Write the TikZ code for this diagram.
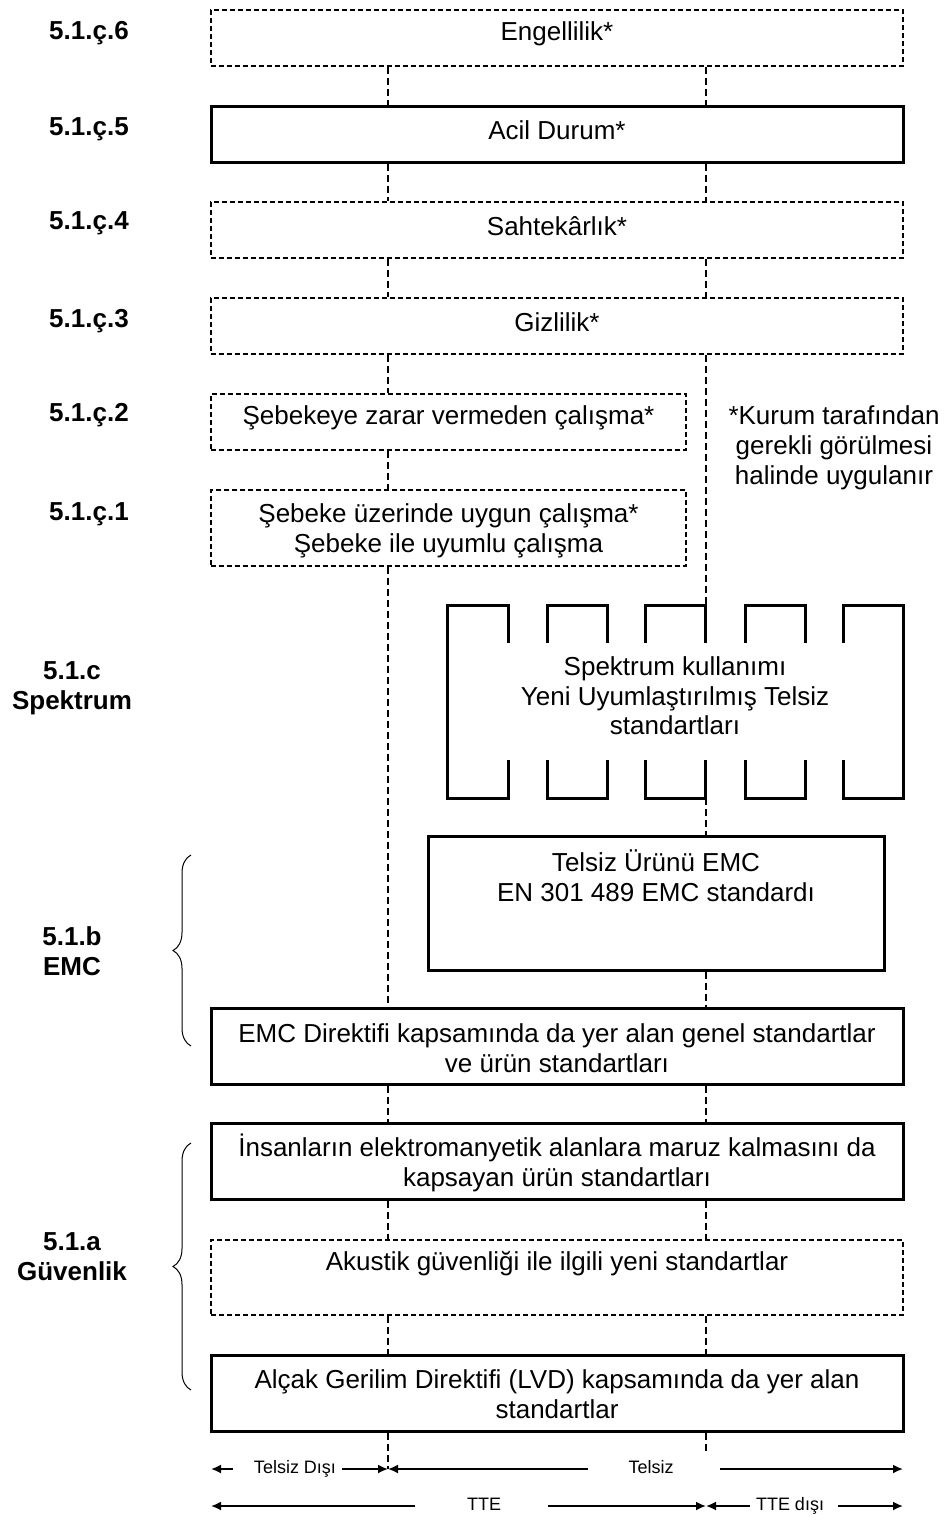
\documentclass[tikz,border=0pt]{standalone}
\usepackage{fontspec}
\setmainfont{Liberation Sans}
\usetikzlibrary{arrows.meta,decorations.pathreplacing}
\begin{document}
\begin{tikzpicture}[x=1pt,y=-1pt,
  solidbox/.style={draw, line width=3pt, inner sep=0pt},
  dashbox/.style={draw, line width=1.3pt, dash pattern=on 5pt off 3pt, inner sep=0pt},
  vline/.style={line width=1.3pt, dash pattern=on 7pt off 4pt},
  txt/.style={font=\fontsize{26}{30}\selectfont, align=center, inner sep=0pt},
  lbl/.style={font=\bfseries\fontsize{26}{30}\selectfont, align=center, inner sep=0pt},
  small/.style={font=\fontsize{18}{20}\selectfont, inner sep=0pt, text height=13pt, text depth=4pt},
  battle/.style={line width=3pt, line join=miter},
  arr/.style={line width=1.8pt, -{Latex[length=10pt,width=9pt]}},
  brc/.style={line width=1pt, decorate, decoration={brace, amplitude=18pt}}
]
\useasboundingbox (0,0) rectangle (947,1520);
\coordinate (L) at (388,0);
\coordinate (R) at (706,0);

% boxes
\node[dashbox, minimum width=692pt, minimum height=56pt] (b6) at (557,38) {};
\node[txt] (t6) at (557,34) {Engellilik*};
\node[solidbox, minimum width=692pt, minimum height=56pt] (b5) at (557,134) {};
\node[txt] (t5) at (557,130) {Acil Durum*};
\node[dashbox, minimum width=692pt, minimum height=56pt] (b4) at (557,230) {};
\node[txt] (t4) at (557,226) {Sahtekârlık*};
\node[dashbox, minimum width=692pt, minimum height=56pt] (b3) at (557,326) {};
\node[txt] (t3) at (557,322) {Gizlilik*};
\node[dashbox, minimum width=475pt, minimum height=56pt] (b2) at (448.5,422) {};
\node[txt] (t2) at (448.5,418) {Şebekeye zarar vermeden çalışma*};
\node[dashbox, minimum width=475pt, minimum height=76pt] (b1) at (448.5,528) {};
\node[txt] (t1) at (448.5,531) {Şebeke üzerinde uygun çalışma*\\Şebeke ile uyumlu çalışma};

\node[txt] (note) at (834,448) {*Kurum tarafından\\gerekli görülmesi\\halinde uygulanır};

% spektrum
\node[minimum width=456pt, minimum height=193pt, inner sep=0pt] (spek) at (675,701.5) {};
\node[txt, font=\fontsize{26}{29.5}\selectfont] (tspek) at (675,696) {Spektrum kullanımı\\Yeni Uyumlaştırılmış Telsiz\\standartları};
\draw[battle] (508,643) -- (508,605) -- (447,605) -- (447,798) -- (508,798) -- (508,760);
\draw[battle] (843,643) -- (843,605) -- (903,605) -- (903,798) -- (843,798) -- (843,760);
\foreach \a/\b in {547/607, 645/705, 745/805} {
  \draw[battle] (\a,643) -- (\a,605) -- (\b,605) -- (\b,643);
  \draw[battle] (\a,760) -- (\a,798) -- (\b,798) -- (\b,760);
}

\node[solidbox, minimum width=456pt, minimum height=134pt] (temc) at (656,903) {};
\node[txt] (ttemc) at (656,876) {Telsiz Ürünü EMC\\EN 301 489 EMC standardı};
\node[solidbox, minimum width=692pt, minimum height=76pt] (emc) at (557,1046) {};
\node[txt] (temc2) at (557,1048) {EMC Direktifi kapsamında da yer alan genel standartlar\\ve ürün standartları};
\node[solidbox, minimum width=692pt, minimum height=76pt] (ins) at (557,1161) {};
\node[txt] (tins) at (557,1163) {İnsanların elektromanyetik alanlara maruz kalmasını da\\kapsayan ürün standartları};
\node[dashbox, minimum width=692pt, minimum height=75pt] (aku) at (557,1277.5) {};
\node[txt] (taku) at (557,1264) {Akustik güvenliği ile ilgili yeni standartlar};
\node[solidbox, minimum width=692pt, minimum height=76pt] (lvd) at (557,1393) {};
\node[txt] (tlvd) at (557,1394) {Alçak Gerilim Direktifi (LVD) kapsamında da yer alan\\standartlar};

% left labels
\node[lbl] (l6) at (89,33) {5.1.ç.6};
\node[lbl] (l5) at (89,129) {5.1.ç.5};
\node[lbl] (l4) at (89,223) {5.1.ç.4};
\node[lbl] (l3) at (89,321) {5.1.ç.3};
\node[lbl] (l2) at (89,415) {5.1.ç.2};
\node[lbl] (l1) at (89,514) {5.1.ç.1};
\node[lbl] (lc) at (72,688) {5.1.c\\Spektrum};
\node[lbl] (lb) at (72,951) {5.1.b\\EMC};
\node[lbl] (la) at (72,1257) {5.1.a\\Güvenlik};

% braces
\coordinate (br1a) at (191,1046);
\coordinate (br1b) at (191,855);
\coordinate (br2a) at (191,1390);
\coordinate (br2b) at (191,1143);
\draw[brc] (br1a) -- (br1b);
\draw[brc] (br2a) -- (br2b);

% dashed connectors
\foreach \u/\v in {b6/b5, b5/b4, b4/b3, emc/ins, ins/aku, aku/lvd} {
  \draw[vline] (\u.south -| L) -- (\v.north -| L);
  \draw[vline] (\u.south -| R) -- (\v.north -| R);
}
\draw[vline] (b3.south -| L) -- (b2.north -| L);
\draw[vline] (b2.south -| L) -- (b1.north -| L);
\draw[vline] (b1.south -| L) -- (emc.north -| L);
\draw[vline] (b3.south -| R) -- (spek.north -| R);
\draw[vline] (spek.south -| R) -- (temc.north -| R);
\draw[vline] (temc.south -| R) -- (emc.north -| R);
\coordinate (Lend) at (388,1469);
\coordinate (Rend) at (706,1452);
\draw[vline] (lvd.south -| L) -- (Lend);
\draw[vline] (lvd.south -| R) -- (Rend);

% bottom arrows
\node[small] (tdisi) at (295,1469) {Telsiz Dışı};
\node[small] (tels) at (651,1469) {Telsiz};
\node[small] (tte) at (484,1506) {TTE};
\node[small] (ttedisi) at (790,1506) {TTE dışı};
\coordinate (r1a) at (233,1469);
\coordinate (r1b) at (211,1469);
\coordinate (r1c) at (342,1469);
\coordinate (r1d) at (388,1469);
\coordinate (r1e) at (588,1469);
\coordinate (r1f) at (720,1469);
\coordinate (r1g) at (903,1469);
\draw[arr] (r1a) -- (r1b);
\draw[arr] (r1c) -- (r1d);
\draw[arr] (r1e) -- (r1d);
\draw[arr] (r1f) -- (r1g);
\coordinate (r2a) at (415,1506);
\coordinate (r2b) at (211,1506);
\coordinate (r2c) at (548,1506);
\coordinate (r2d) at (706,1506);
\coordinate (r2e) at (750,1506);
\coordinate (r2f) at (838,1506);
\coordinate (r2g) at (903,1506);
\draw[arr] (r2a) -- (r2b);
\draw[arr] (r2c) -- (r2d);
\draw[arr] (r2e) -- (r2d);
\draw[arr] (r2f) -- (r2g);
\end{tikzpicture}
\end{document}
